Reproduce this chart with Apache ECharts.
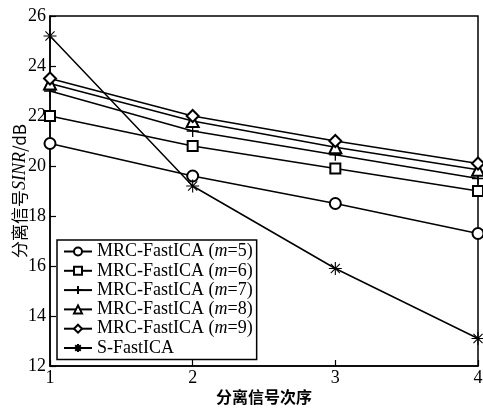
<!DOCTYPE html>
<html>
<head>
<meta charset="utf-8">
<script src="https://cdn.jsdelivr.net/npm/echarts@6/dist/echarts.min.js"></script>
<style>
    html, body { margin: 0; padding: 0; background: #fff; }
    #chart { width: 483px; height: 410px; }
</style>
</head>
<body>
<div id="chart"></div>
<script>
// signal order on the x axis
const order = [1, 2, 3, 4];
const seriesNames = [
    'MRC-FastICA (m=5)',
    'MRC-FastICA (m=6)',
    'MRC-FastICA (m=7)',
    'MRC-FastICA (m=8)',
    'MRC-FastICA (m=9)',
    'S-FastICA'
];
// separated SINR in dB
const sinrM5 = [20.9, 19.6, 18.5, 17.3];
const sinrM6 = [22.0, 20.8, 19.9, 19.0];
const sinrM7 = [23.0, 21.4, 20.45, 19.5];
const sinrM8 = [23.3, 21.8, 20.75, 19.85];
const sinrM9 = [23.5, 22.0, 21.0, 20.1];
const sinrS = [25.2, 19.2, 15.9, 13.1];

const plusPath = 'path://M5,0L5,10M0,5L10,5';
const starPath = 'path://M5,0L5,10M0,5L10,5M1.5,1.5L8.5,8.5M8.5,1.5L1.5,8.5';

const serif = '"Liberation Serif", "Times New Roman", "Noto Sans CJK SC", serif';

var chartDom = document.getElementById('chart');
var myChart = echarts.init(chartDom);

const allValues = [sinrM5, sinrM6, sinrM7, sinrM8, sinrM9, sinrS];
const symbols = ['emptyCircle', 'emptyRect', plusPath, 'emptyTriangle', 'emptyDiamond', starPath];
const sizes = [11, 10, 12, 12, 12, 13];

var series = allValues.map((vals, i) => ({
    name: seriesNames[i],
    type: 'line',
    data: vals.map((v, j) => [order[j], v]),
    symbol: symbols[i],
    symbolSize: sizes[i],
    showAllSymbol: true,
    lineStyle: { color: '#000', width: 1.5 },
    itemStyle: {
        color: '#000',
        borderColor: '#000',
        borderWidth: i === 5 ? 1.1 : 1.3
    },
    emphasis: { disabled: true },
    animation: false,
    z: 2
}));

var option = {
    backgroundColor: '#fff',
    animation: false,
    grid: {
        left: 50,
        right: 5,
        top: 16,
        bottom: 44,
        outerBoundsMode: 'none',
        containLabel: false,
        show: true,
        borderColor: '#000',
        borderWidth: 1.5,
        backgroundColor: 'transparent'
    },
    legend: {
        orient: 'vertical',
        left: 57,
        top: 240,
        z: 10,
        data: seriesNames,
        backgroundColor: '#fff',
        borderColor: '#000',
        borderWidth: 1.5,
        borderRadius: 0,
        padding: [2, 4, 2, 6],
        itemGap: 0.3,
        itemWidth: 28,
        itemHeight: 10,
        formatter: (name) => {
            var m = name.match(/^(.*)\(m=(\d)\)$/);
            if (m) return m[1] + '({i|m}=' + m[2] + ')';
            return name;
        },
        textStyle: {
            color: '#000',
            fontFamily: serif,
            fontSize: 18,
            lineHeight: 19,
            rich: {
                i: { fontStyle: 'italic', fontFamily: serif, fontSize: 18, color: '#000', lineHeight: 19 }
            }
        }
    },
    xAxis: {
        type: 'value',
        min: 1,
        max: 4,
        interval: 1,
        name: '分离信号次序',
        nameLocation: 'middle',
        nameGap: 23,
        nameMoveOverlap: false,
        nameTextStyle: {
            color: '#000',
            fontFamily: '"Noto Sans CJK SC", sans-serif',
            fontSize: 16,
            fontWeight: 'bold'
        },
        axisLine: { lineStyle: { color: '#000', width: 1.5 } },
        axisTick: { inside: true, length: 6, lineStyle: { color: '#000', width: 1.2 } },
        axisLabel: { color: '#000', fontFamily: serif, fontSize: 18, margin: 3 },
        splitLine: { show: false }
    },
    yAxis: {
        type: 'value',
        min: 12,
        max: 26,
        interval: 2,
        name: '分离信号{i|SINR}/dB',
        nameLocation: 'middle',
        nameRotate: 90,
        nameGap: 21,
        nameMoveOverlap: false,
        nameTextStyle: {
            color: '#000',
            fontFamily: '"Noto Sans CJK SC", ' + serif,
            fontSize: 17,
            rich: {
                i: { fontStyle: 'italic', fontFamily: serif, fontSize: 18, color: '#000' }
            }
        },
        axisLine: { lineStyle: { color: '#000', width: 1.5 } },
        axisTick: { inside: true, length: 6, lineStyle: { color: '#000', width: 1.2 } },
        axisLabel: { color: '#000', fontFamily: serif, fontSize: 18, margin: 4 },
        splitLine: { show: false }
    },
    series: series
};

option && myChart.setOption(option);
</script>
</body>
</html>
